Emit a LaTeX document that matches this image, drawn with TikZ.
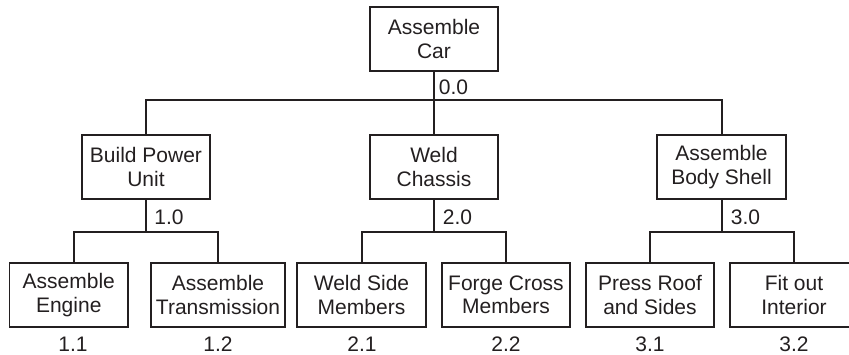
\documentclass[tikz,border=0pt]{standalone}
\usepackage{fontspec}
\setmainfont{Liberation Sans}
\definecolor{ink}{HTML}{231F20}
\begin{document}
\begin{tikzpicture}[x=1pt,y=-1pt,
  every node/.style={font=\fontsize{21}{23.5}\selectfont, text=ink},
  box/.style={draw=ink, line width=1.2pt, minimum height=64pt, inner sep=0pt, align=center},
  num/.style={inner sep=0pt, anchor=center},
  wire/.style={draw=ink, line width=1.2pt}]
\useasboundingbox (0,0) rectangle (849,355);
\clip (0,0) rectangle (849,355);
% boxes
\node[box, minimum width=128pt] (top) at (434,39) {Assemble\\Car};
\node[box, minimum width=128pt] (pa) at (146,167) {Build Power\\Unit};
\node[box, minimum width=128pt] (pb) at (434,167) {Weld\\Chassis};
\node[box, minimum width=129pt] (pc) at (721.5,167) {Assemble\\Body Shell};
\node[box, minimum width=118.5pt] (c11) at (68.75,295) {Assemble\\Engine};
\node[box, minimum width=134pt] (c12) at (218,295) {Assemble\\Transmission};
\node[box, minimum width=129pt] (c21) at (361.5,295) {Weld Side\\Members};
\node[box, minimum width=128pt] (c22) at (506,295) {Forge Cross\\Members};
\node[box, minimum width=128pt] (c31) at (650,295) {Press Roof\\and Sides};
\node[box, minimum width=128pt] (c32) at (794,295) {Fit out\\Interior};
% numbers
\node[num] (n00) at (453.5,87.5) {0.0};
\node[num] (n10) at (169,217) {1.0};
\node[num] (n20) at (457.5,217) {2.0};
\node[num] (n30) at (745.5,217) {3.0};
\node[num] (n11) at (73,344) {1.1};
\node[num] (n12) at (218,344) {1.2};
\node[num] (n21) at (362,344) {2.1};
\node[num] (n22) at (506,344) {2.2};
\node[num] (n31) at (650,344) {3.1};
\node[num] (n32) at (794,344) {3.2};
% junctions
\coordinate (j0) at (434,100);
\coordinate (j1) at (146,232);
\coordinate (j2) at (434,232);
\coordinate (j3) at (722,232);
\coordinate (b11) at (74,232);
\coordinate (b12) at (218,232);
\coordinate (b21) at (362,232);
\coordinate (b22) at (506,232);
\coordinate (b31) at (650,232);
\coordinate (b32) at (794,232);
% connectors
\draw[wire] (top.south) -- (j0);
\draw[wire] (pa.north) |- (j0) -| (pc.north -| j3);
\draw[wire] (j0) -- (pb.north);
\draw[wire] (pa.south) -- (j1);
\draw[wire] (pb.south) -- (j2);
\draw[wire] (pc.south -| j3) -- (j3);
\draw[wire] (b11 |- c11.north) -- (b11) -- (b12) -- (c12.north);
\draw[wire] (c21.north -| b21) -- (b21) -- (b22) -- (c22.north);
\draw[wire] (c31.north) -- (b31) -- (b32) -- (c32.north);
\end{tikzpicture}
\end{document}
